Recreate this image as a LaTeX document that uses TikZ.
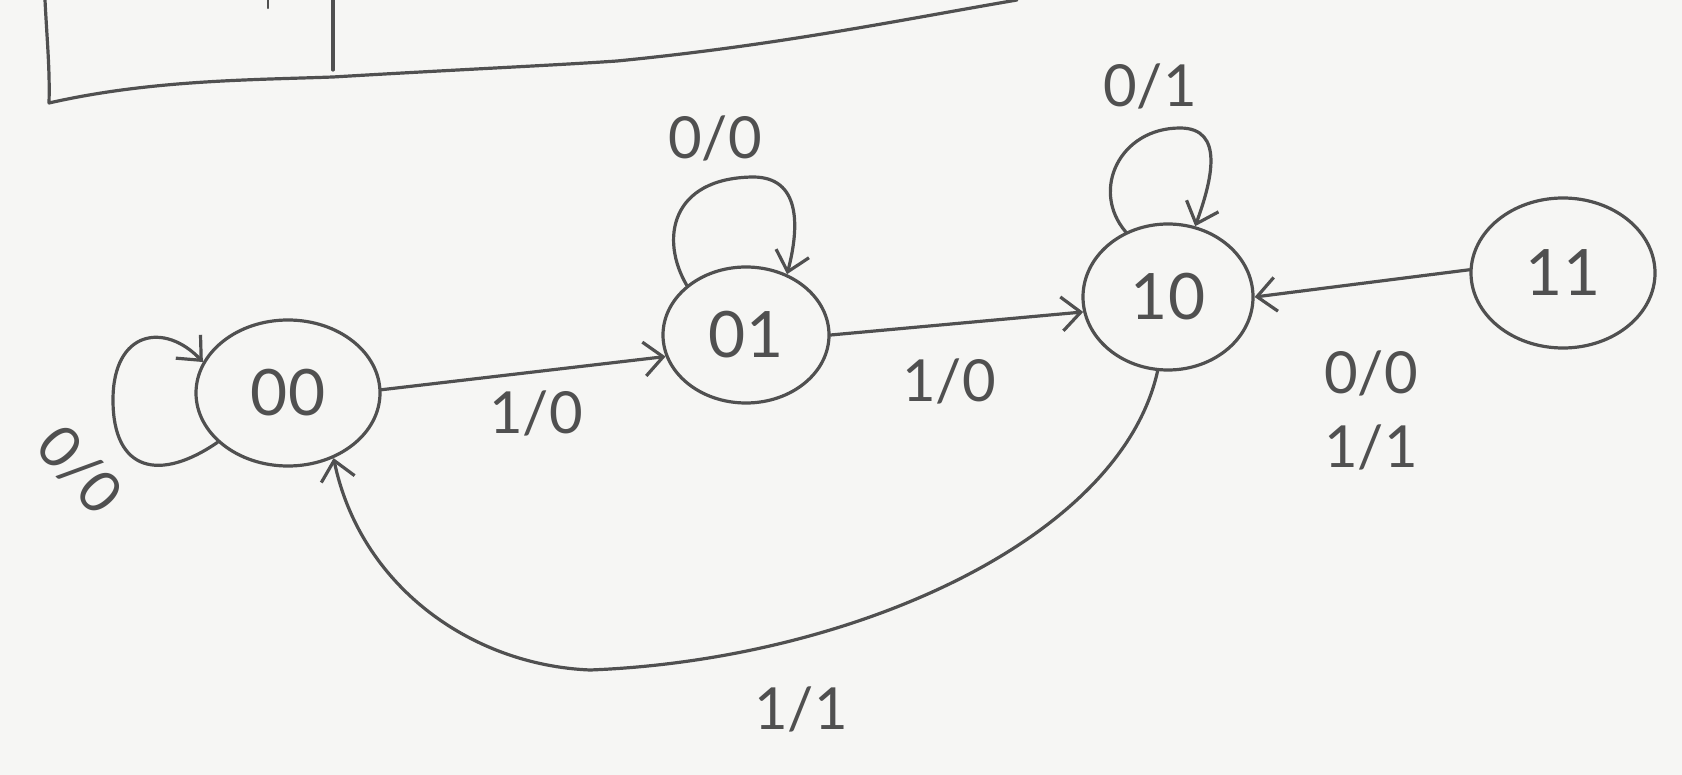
\documentclass[tikz,border=0pt]{standalone}
\usepackage{fontspec}
\setmainfont{Lato}
\usetikzlibrary{arrows.meta,shapes.geometric}
\definecolor{ink}{HTML}{505050}
\definecolor{paper}{HTML}{F6F6F4}
\begin{document}
\begin{tikzpicture}[x=1pt,y=-1pt,
  st/.style={draw=ink, ellipse, line width=3.2pt, inner sep=0pt, text=ink, font=\fontsize{64}{70}\selectfont},
  edge/.style={draw=ink, line width=3.2pt, line cap=round, line join=round},
  arr/.style={edge, -{Straight Barb[length=19pt,width=34pt]}},
  lab/.style={text=ink, font=\fontsize{58}{64}\selectfont, inner sep=0pt}]
\fill[paper] (0,0) rectangle (1682,775);
\useasboundingbox (0,0) rectangle (1682,775);

% top box fragment
\draw[edge] (45,0) .. controls (47,40) and (50,70) .. (49,103)
  .. controls (150,80) and (250,80) .. (333,77)
  .. controls (450,70) and (560,65) .. (617,61)
  .. controls (780,45) and (900,20) .. (1017,0);
\draw[edge] (333,0) -- (333,70);
\draw[edge, line width=2.4pt] (268,0) -- (268,8);

% states
\node[st, minimum width=184pt, minimum height=146pt] (s00) at (288,393) {00};
\node[st, minimum width=166pt, minimum height=136pt] (s01) at (746,335) {01};
\node[st, minimum width=170pt, minimum height=146pt] (s10) at (1168,297) {10};
\node[st, minimum width=184pt, minimum height=150pt] (s11) at (1563,273) {11};

% transitions
\draw[arr] (s00.215) .. controls (160,482) and (113,472) .. (113,400)
  .. controls (113,330) and (165,322) .. (s00.160);
\node[lab, rotate=-48] (l00) at (80,470) {0/0};

\draw[arr] (s00.2) -- (s01.195);
\node[lab] (l0001) at (536,413) {1/0};

\draw[arr] (s01.140) .. controls (660,240) and (670,178) .. (753,177)
  .. controls (800,177) and (800,225) .. (s01.56);
\node[lab] (l01) at (715,138) {0/0};

\draw[arr] (s01.east) -- (s10.190);
\node[lab] (l0110) at (949,381) {1/0};

\draw[arr] (s10.123) .. controls (1090,190) and (1120,128) .. (1180,128)
  .. controls (1225,128) and (1212,180) .. (s10.69);
\node[lab] (l10) at (1150,86) {0/1};

\draw[arr] (s11.178) -- (s10.east);
\node[lab, align=center] (l1110) at (1371,410) {0/0\\[10pt]1/1};

\draw[arr] (s10.262) .. controls (1120,540) and (850,660) .. (590,670)
  .. controls (470,665) and (360,585) .. (s00.305);
\node[lab] (l1000) at (801,709) {1/1};
\end{tikzpicture}
\end{document}
